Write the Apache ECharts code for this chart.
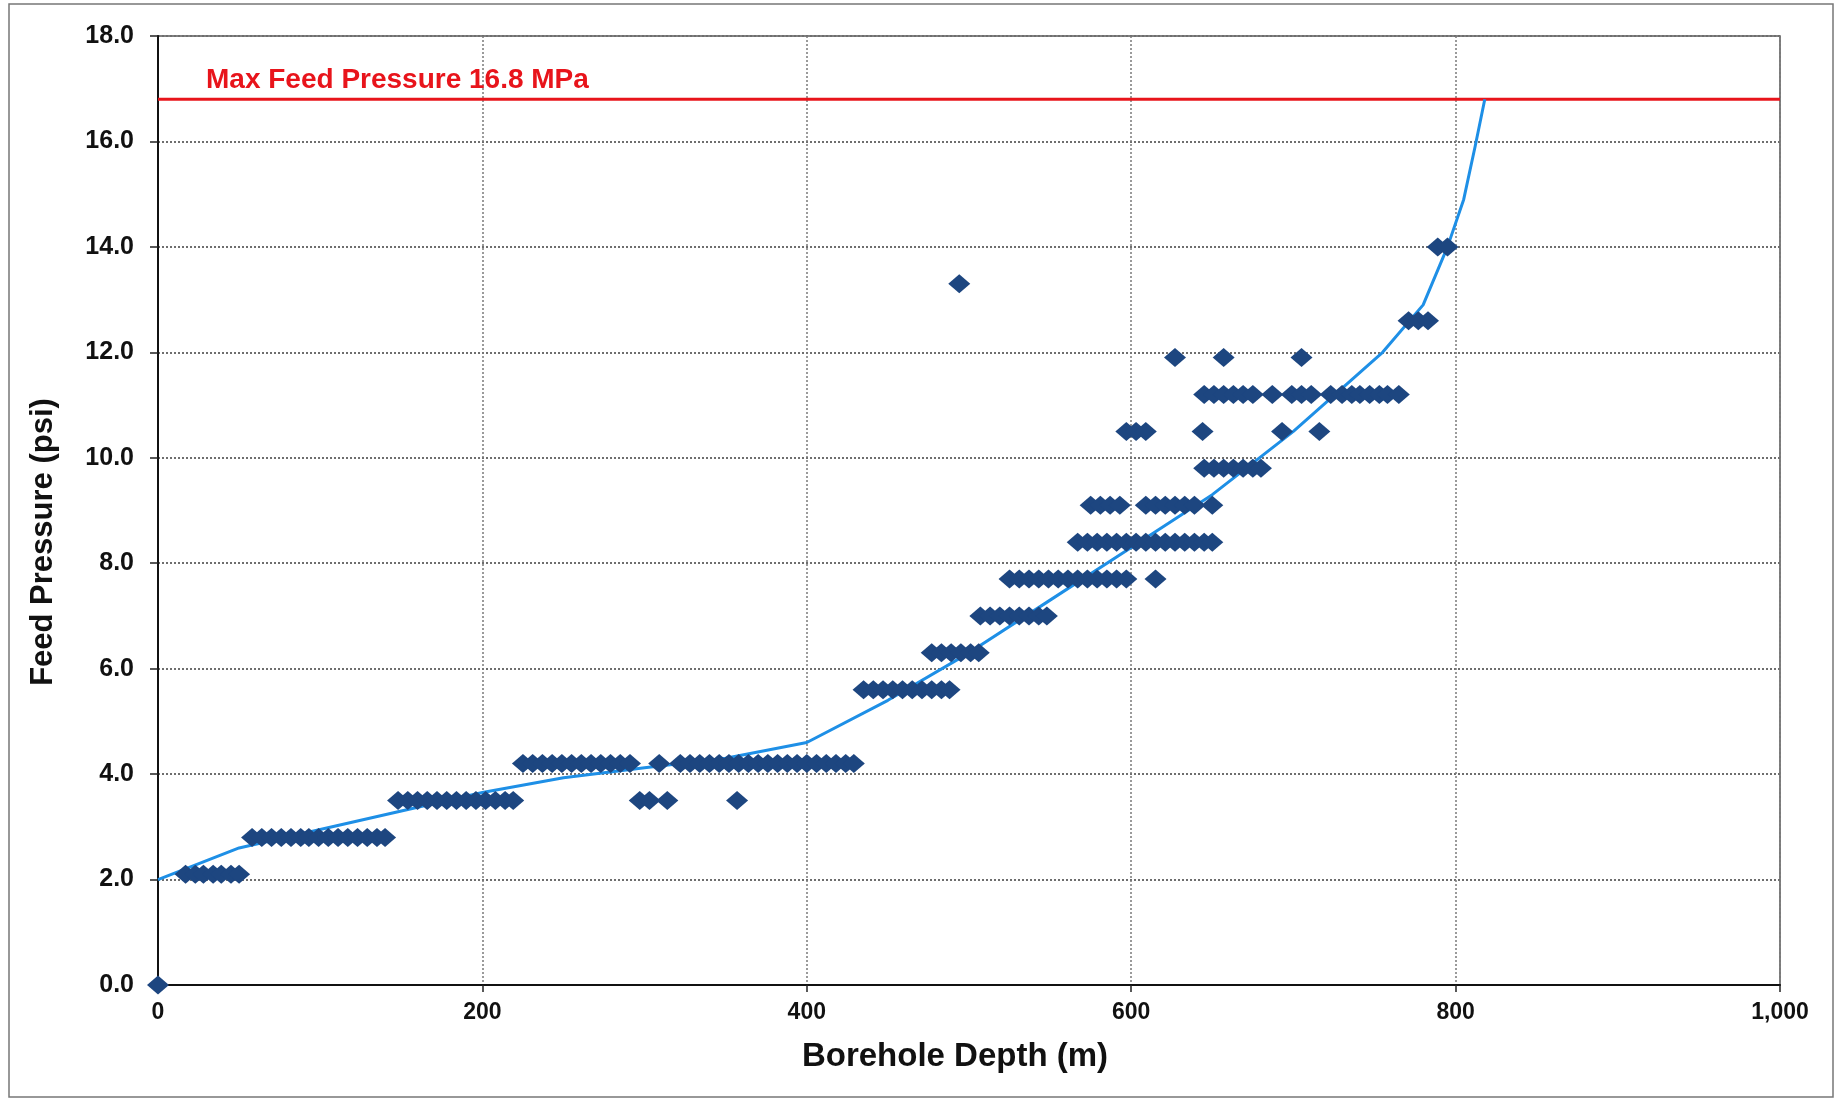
<!DOCTYPE html>
<html>
<head>
<meta charset="utf-8">
<script src="https://cdn.jsdelivr.net/npm/echarts@6/dist/echarts.min.js"></script>
<style>
html,body{margin:0;padding:0;background:#fff;}
#chart{width:1835px;height:1100px;}
</style>
</head>
<body>
<div id="chart"></div>
<script>
// ---- Data ----
const pressureLevels = [0, 2.1, 2.8, 3.5, 4.2, 5.6, 6.3, 7.0, 7.7, 8.4, 9.1, 9.8, 10.5, 11.2, 11.9, 12.6, 13.3, 14.0];
const depthsAtLevel = [
  [0],
  [17, 23, 28, 34, 39, 45, 50],
  [58, 64, 70, 76, 82, 88, 93, 99, 105, 111, 117, 123, 129, 135, 140],
  [148, 154, 160, 166, 172, 178, 184, 190, 196, 202, 208, 214, 219, 297, 303, 314, 357],
  [225, 231, 237, 243, 249, 255, 261, 267, 273, 279, 285, 291, 309, 322, 328, 334, 340, 346, 352, 358, 364, 370, 376, 382, 388, 394, 400, 406, 412, 418, 424, 429],
  [435, 441, 447, 453, 459, 465, 471, 477, 483, 488],
  [477, 483, 489, 495, 501, 506],
  [507, 513, 519, 525, 531, 537, 543, 548],
  [525, 531, 537, 543, 549, 555, 561, 567, 573, 579, 585, 591, 597, 615],
  [567, 573, 579, 585, 591, 597, 603, 609, 615, 621, 627, 633, 639, 645, 650],
  [575, 581, 587, 593, 609, 615, 621, 627, 633, 639, 650],
  [645, 651, 657, 663, 669, 675, 680],
  [597, 603, 609, 644, 693, 716],
  [645, 651, 657, 663, 669, 675, 687, 699, 705, 711, 723, 730, 736, 741, 747, 753, 758, 765],
  [627, 657, 705],
  [771, 777, 783],
  [494],
  [789, 795]
];
const trendDepth    = [0, 50, 100, 150, 200, 250, 300, 350, 400, 450, 500, 550, 600, 650, 700, 755, 780, 795, 805, 812, 818];
const trendPressure = [2.0, 2.6, 2.95, 3.3, 3.65, 3.93, 4.12, 4.3, 4.6, 5.4, 6.3, 7.3, 8.3, 9.3, 10.5, 12.0, 12.9, 14.0, 14.9, 15.9, 16.8];
const maxFeedPressure = 16.8;
const maxLabel = 'Max Feed Pressure 16.8 MPa';
const yTitle = 'Feed Pressure (psi)';
const xTitle = 'Borehole Depth (m)';

// ---- Build series data ----
const scatterData = [];
pressureLevels.forEach((p, i) => depthsAtLevel[i].forEach(d => scatterData.push([d, p])));
const trendData = trendDepth.map((d, i) => [d, trendPressure[i]]);

const FONT = '"Liberation Sans", Arial, sans-serif';
const chart = echarts.init(document.getElementById('chart'), null, {renderer: 'canvas'});
chart.setOption({
  backgroundColor: '#ffffff',
  animation: false,
  grid: {left: 158, right: 55, top: 36, bottom: 115, show: true, borderColor: '#555', borderWidth: 1.5, backgroundColor: 'transparent'},
  xAxis: {
    type: 'value', min: 0, max: 1000, interval: 200,
    axisLine: {show: true, onZero: false, lineStyle: {color: '#111', width: 2}},
    axisTick: {show: true, length: 7, lineStyle: {color: '#222', width: 1.5}},
    axisLabel: {fontFamily: FONT, fontWeight: 'bold', fontSize: 23, color: '#111', margin: 16,
      formatter: v => v.toLocaleString('en-US')},
    splitLine: {show: true, lineStyle: {color: '#7a7a7a', width: 1.5, type: [2, 2]}}
  },
  yAxis: {
    type: 'value', min: 0, max: 18, interval: 2,
    axisLine: {show: true, onZero: false, lineStyle: {color: '#111', width: 2}},
    axisTick: {show: true, length: 8, lineStyle: {color: '#222', width: 1.5}},
    axisLabel: {fontFamily: FONT, fontWeight: 'bold', fontSize: 25, color: '#111', margin: 24,
      formatter: v => v.toFixed(1)},
    splitLine: {show: true, lineStyle: {color: '#6e6e6e', width: 2, type: [2, 2]}}
  },
  series: [
    {
      type: 'line', name: 'max', data: [[0, maxFeedPressure], [1000, maxFeedPressure]],
      symbol: 'none', lineStyle: {color: '#E8141B', width: 3}, z: 3
    },
    {
      type: 'line', name: 'trend', data: trendData, symbol: 'none', smooth: false,
      lineStyle: {color: '#1E8FE6', width: 3}, z: 4
    },
    {
      type: 'scatter', name: 'data', data: scatterData, symbol: 'diamond', symbolSize: [22, 19],
      itemStyle: {color: '#1D4680', opacity: 1}, z: 5
    }
  ],
  graphic: [
    {type: 'rect', shape: {x: 9, y: 4, width: 1824, height: 1093}, style: {fill: 'none', stroke: '#777', lineWidth: 1.5}, z: 0, silent: true},
    {type: 'text', left: 206, top: 66, z: 10,
      style: {text: maxLabel, fill: '#E8141B', font: 'bold 28px "Liberation Sans", Arial, sans-serif'}},
    {type: 'text', x: 43, y: 542, rotation: Math.PI / 2, z: 10,
      style: {text: yTitle, fill: '#111', font: 'bold 31px "Liberation Sans", Arial, sans-serif', align: 'center', verticalAlign: 'middle'}},
    {type: 'text', x: 955, y: 1057, z: 10,
      style: {text: xTitle, fill: '#111', font: 'bold 33px "Liberation Sans", Arial, sans-serif', align: 'center', verticalAlign: 'middle'}}
  ]
});
</script>
</body>
</html>
